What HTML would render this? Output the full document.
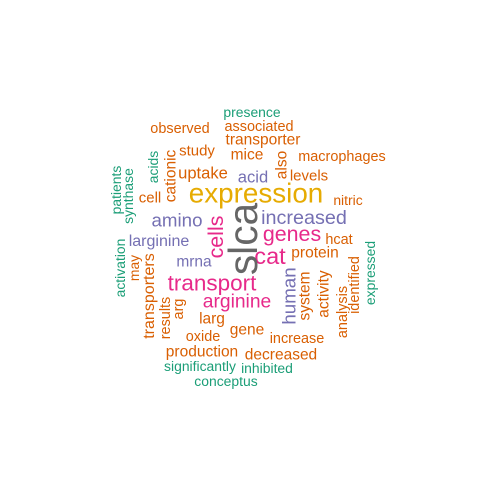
<!DOCTYPE html>
<html><head><meta charset="utf-8"><style>
html,body{margin:0;padding:0;background:#fff;}
svg text{font-family:"Liberation Sans",Arial,sans-serif;}
</style></head><body>
<svg id="cloud" width="480" height="480" viewBox="0 0 480 480" xmlns="http://www.w3.org/2000/svg">
<rect width="480" height="480" fill="#fff"/>
</svg>
<script>
const O="#D95F02",G="#1B9E77",P="#7570B3",K="#E7298A",Y="#E6AB02",S="#666666";
const words=["presence","observed","associated","transporter","study","mice","macrophages","uptake","acid","levels","expression","cell","nitric","amino","increased","genes","larginine","hcat","cat","protein","mrna","transport","arginine","larg","gene","oxide","increase","production","decreased","significantly","inhibited","conceptus",
"slca","cells","cationic","acids","patients","synthase","also","activation","may","transporters","results","arg","human","system","activity","analysis","identified","expressed"];
const sizes=[13,13.5,13.5,14.5,14,14.5,13.5,15.5,15.5,14,26,14,13,17.5,18.5,20,15,13.5,22,14.5,14.5,21,18,14.5,14.5,13.5,13.5,14.5,14.5,13,13,13,
38,20,14.5,13,13,13,14.5,13,13,15,13.5,13.5,17.5,14.5,14.5,13.5,13.5,13];
const colors=[G,O,O,O,O,O,O,O,P,O,Y,O,O,P,P,K,P,O,K,O,P,K,K,O,O,O,O,O,O,G,G,G,
S,K,O,G,G,G,O,G,O,O,O,O,P,O,O,O,O,G];
const cx=[252,180,259,263,197,247,342,203,253,309,256,150,348,177,304,292,159,339,270,315,194,212,237,212,247,203,297,202,281,200,267,226,
243,216,171,153,116,128,282,120,134,149,166,179,289,305,324,343,355,370];
const cy=[112,129,127,140,151,155,157,173,177,176,193,198,200,220,218,234,241,240,256,253,262,283,302,319,330,337,339,352,355,366,368,381,
239,237,176,167,190,196,165,268,268,296,318,309,296,296,294,312,285,273];
const vertical=words.map((w,i)=>i>=32);
const SCALE=1.07;
const svg=document.getElementById('cloud');
words.forEach((w,i)=>{
  const t=document.createElementNS('http://www.w3.org/2000/svg','text');
  
  
  t.setAttribute('x',cx[i]);
  t.setAttribute('y',cy[i]);
  t.setAttribute('text-anchor','middle');
  t.setAttribute('dominant-baseline','central');
  t.setAttribute('font-size',sizes[i]*SCALE);
  t.setAttribute('fill',colors[i]);
  if(vertical[i]) t.setAttribute('transform','rotate(-90 '+cx[i]+' '+cy[i]+')');
  t.textContent=w;
  svg.appendChild(t);
});
</script>
</body></html>
